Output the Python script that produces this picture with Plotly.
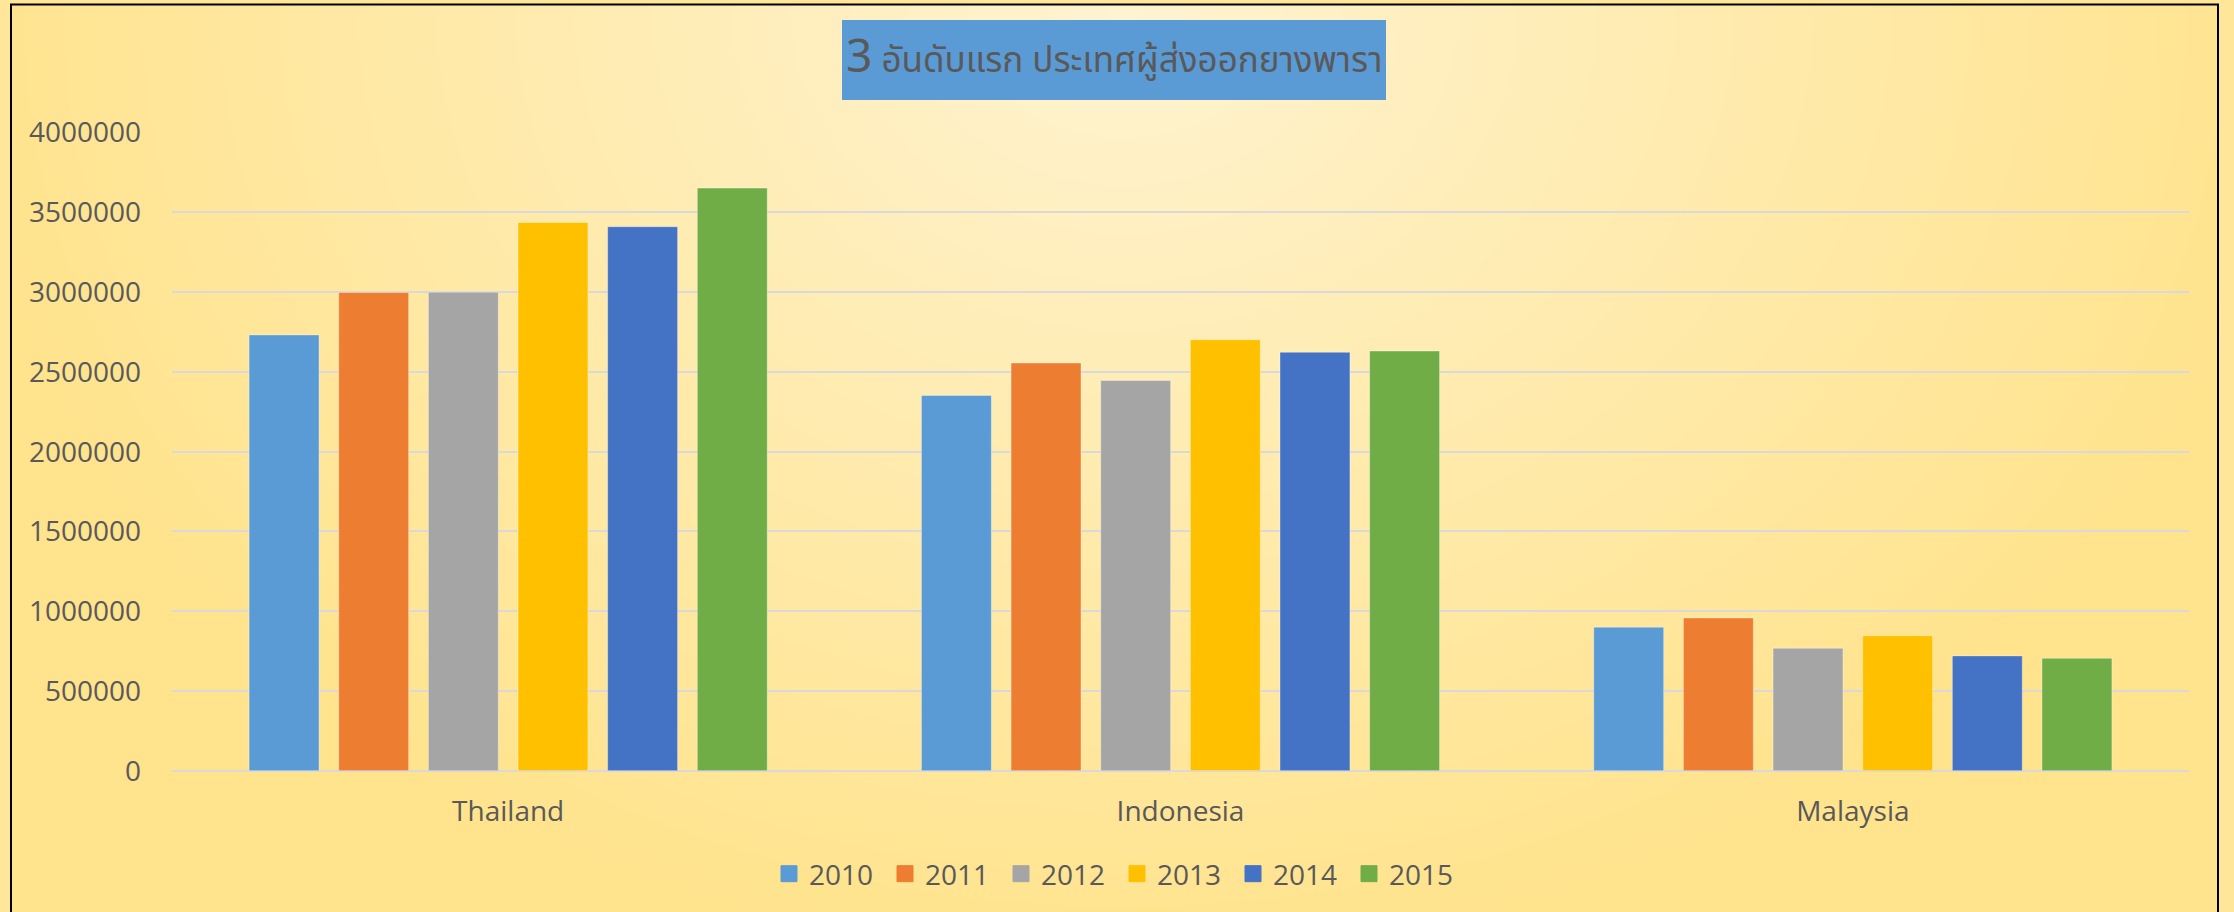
import plotly.graph_objects as go

W, H = 2234, 912

categories = ["Thailand", "Indonesia", "Malaysia"]
years = ["2010", "2011", "2012", "2013", "2014", "2015"]
v2010 = [2732000, 2352000, 900000]
v2011 = [2998000, 2556000, 958000]
v2012 = [3000000, 2446000, 768000]
v2013 = [3437000, 2702000, 847000]
v2014 = [3410000, 2623000, 720000]
v2015 = [3652000, 2631000, 705000]
series = [v2010, v2011, v2012, v2013, v2014, v2015]
colors = ["#5B9BD5", "#ED7D31", "#A5A5A5", "#FFC000", "#4472C4", "#70AD47"]
title_num = "3"
title_text = "อันดับแรก ประเทศผู้ส่งออกยางพารา"

FONT = "Open Sans, Noto Sans, sans-serif"
THAI_FONT = "Noto Sans Thai, Noto Sans Thai UI, Noto Sans, DejaVu Sans, sans-serif"
TXT = "#595959"

def px_x(x):
    return x / W

def px_y(y):
    return 1 - y / H

fig = go.Figure()
for yr, vals, col in zip(years, series, colors):
    fig.add_trace(go.Bar(
        x=categories, y=vals, name=yr, showlegend=False,
        marker=dict(color=col, line=dict(color="rgba(255,255,255,0.35)", width=1)),
    ))
for yr, col in zip(years, colors):
    fig.add_trace(go.Scatter(
        x=[None], y=[None], mode="markers", name=yr,
        marker=dict(symbol="square", size=16, color=col, line=dict(color=col, width=1)),
    ))

# radial-ish background gradient
dark = (255, 227, 141)
light = (255, 243, 209)
cx, cy, rx, ry = 1125, 10, 1180, 960
shapes = []
N = 60
for i in range(N):
    s = 1 - i / N
    t = s
    c = tuple(round(light[k] + (dark[k] - light[k]) * t) for k in range(3))
    shapes.append(dict(
        type="circle", xref="paper", yref="paper", layer="below",
        x0=px_x(cx - rx * s), x1=px_x(cx + rx * s),
        y0=px_y(cy + ry * s), y1=px_y(cy - ry * s),
        fillcolor="rgb(%d,%d,%d)" % c, line=dict(width=0),
    ))
outer = "#FFE699"
for (x0, y0, x1, y1) in [(-5, -5, 11, H + 20), (2218, -5, W + 5, H + 20), (-5, -5, W + 5, 4.5)]:
    shapes.append(dict(type="rect", xref="paper", yref="paper", layer="below",
                       x0=px_x(x0), x1=px_x(x1), y0=px_y(y1), y1=px_y(y0),
                       fillcolor=outer, line=dict(width=0)))
shapes.append(dict(type="rect", xref="paper", yref="paper", layer="below",
                   x0=px_x(11), x1=px_x(2218), y0=px_y(H + 30), y1=px_y(4.5),
                   fillcolor="rgba(0,0,0,0)", line=dict(color="#000000", width=2)))
# title box
shapes.append(dict(type="rect", xref="paper", yref="paper", layer="below",
                   x0=px_x(842), x1=px_x(1386), y0=px_y(100), y1=px_y(20),
                   fillcolor="#5B9BD5", line=dict(width=0)))

fig.update_layout(
    width=W, height=H, autosize=False,
    margin=dict(l=0, r=0, t=0, b=0, pad=0, autoexpand=False),
    paper_bgcolor="rgb(%d,%d,%d)" % dark,
    plot_bgcolor="rgba(0,0,0,0)",
    barmode="group", bargap=0.2, bargroupgap=0.22,
    shapes=shapes,
    xaxis=dict(
        domain=[px_x(172), px_x(2189)], type="category", automargin=False,
        showgrid=False, showline=False, ticks="", zeroline=False,
        tickfont=dict(family=FONT, size=28, color=TXT),
        ticklabelstandoff=21,
    ),
    yaxis=dict(
        domain=[px_y(770.8), px_y(132.6)], range=[0, 4000000], automargin=False,
        dtick=500000, tick0=0, tickformat="d",
        showgrid=True, gridcolor="#D9D9D9", gridwidth=1.5,
        zeroline=True, zerolinecolor="#D9D9D9", zerolinewidth=1.5,
        showline=False, ticks="",
        tickfont=dict(family=FONT, size=28, color=TXT),
        ticklabelstandoff=30,
    ),
    legend=dict(
        orientation="h", x=0.5, xanchor="center", y=px_y(874), yanchor="middle",
        font=dict(family=FONT, size=28, color=TXT),
        bgcolor="rgba(0,0,0,0)", entrywidth=71, entrywidthmode="pixels",
        traceorder="normal",
    ),
    annotations=[dict(
        xref="paper", yref="paper", x=px_x((842 + 1386) / 2), y=px_y(58),
        xanchor="center", yanchor="middle", showarrow=False,
        text='<span style="font-size:46px">%s</span> %s' % (title_num, title_text),
        font=dict(family=THAI_FONT, size=35, color=TXT),
    )],
)

fig.write_html(
    "out.html",
    config={"displayModeBar": False},
    post_script="document.body.style.margin='0px';document.body.style.overflow='hidden';",
)
